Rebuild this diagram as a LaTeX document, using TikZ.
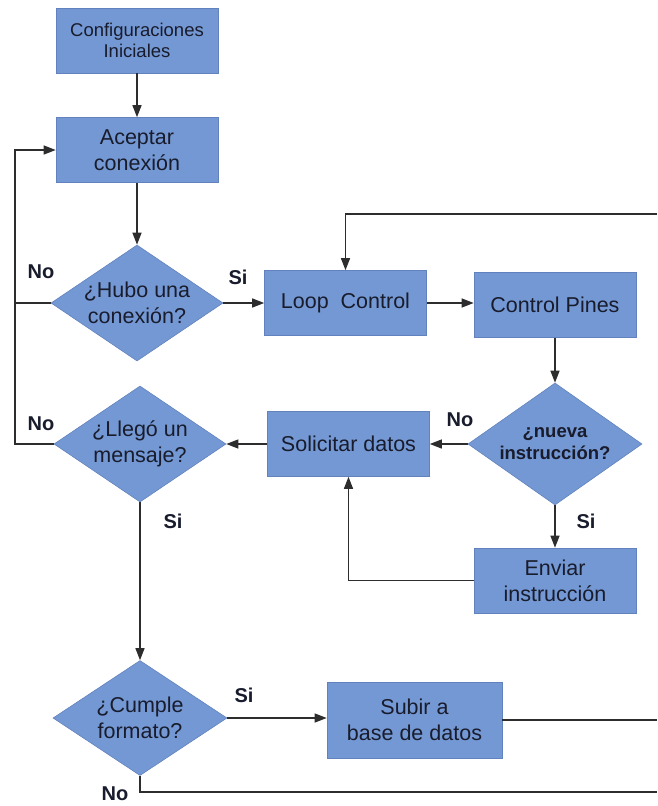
\documentclass[tikz,border=0pt]{standalone}
\usepackage{fontspec}
\setmainfont{Liberation Sans}
\usetikzlibrary{shapes.geometric,arrows.meta,calc}
\definecolor{boxblue}{RGB}{116,152,212}
\definecolor{boxedge}{RGB}{98,130,190}
\definecolor{ink}{RGB}{24,28,44}
\definecolor{wire}{RGB}{45,45,45}
\tikzset{
  procbox/.style={rectangle, fill=boxblue, draw=boxedge, line width=0.6pt,
    minimum width=162pt, minimum height=65pt, inner sep=2pt, align=center,
    text=ink, font=\fontsize{21.5}{26}\selectfont},
  decision/.style={diamond, fill=boxblue, draw=boxedge, line width=0.6pt,
    aspect=1.5, inner sep=0pt, minimum width=172pt, minimum height=116pt,
    align=center, text=ink, font=\fontsize{21.5}{26}\selectfont},
  flow/.style={draw=wire, line width=1.2pt,
    -{Triangle[length=12pt,width=9pt]}},
  wireline/.style={draw=wire, line width=1.2pt},
  answer/.style={font=\bfseries\fontsize{20}{24}\selectfont, text=ink, inner sep=0pt}
}
\begin{document}
\begin{tikzpicture}[x=1pt,y=-1pt]
\useasboundingbox (0,0) rectangle (657,806);

% steps and decisions
\node[procbox, font=\fontsize{18.5}{21}\selectfont] (cfg) at (137,40.5) {Configuraciones\\Iniciales};
\node[procbox] (acc) at (137,150) {Aceptar\\conexión};
\node[decision] (hubo) at (137,303) {¿Hubo una\\conexión?};
\node[procbox] (loop) at (345.5,303) {Loop~ Control};
\node[procbox] (pines) at (555,305) {Control Pines};
\node[decision, minimum width=174pt, minimum height=122pt,
      font=\bfseries\fontsize{18.5}{22}\selectfont] (nueva) at (555,444) {¿nueva\\instrucción?};
\node[procbox] (solic) at (348.5,444) {Solicitar datos};
\node[decision] (llego) at (140,444) {¿Llegó un\\mensaje?};
\node[procbox] (enviar) at (555,580.5) {Enviar\\instrucción};
\node[decision, minimum width=174pt, minimum height=115pt] (cumple) at (140,718) {¿Cumple\\formato?};
\node[procbox, minimum width=175pt, minimum height=76pt] (subir) at (414.5,720) {Subir a\\base de datos};

% free ends of the connectors
\coordinate (busL) at (15,150);
\coordinate (topR) at (657,214);
\coordinate (subR) at (657,720);
\coordinate (botR) at (657,792);

% connectors
\draw[flow] (cfg) -- (acc);
\draw[flow] (acc) -- (hubo);
\draw[flow] (llego.west) -| (busL) -- (acc.west);
\draw[wireline] (hubo.west) -- (hubo.west -| busL);
\draw[flow] (hubo) -- (loop);
\draw[flow] (loop) -- (loop.east -| pines.west);
\draw[flow] (pines) -- (nueva);
\draw[flow] (nueva) -- (solic);
\draw[flow] (nueva) -- (enviar);
\draw[flow] (enviar.west) -| (solic.south);
\draw[flow] (solic) -- (llego);
\draw[flow] (llego) -- (cumple);
\draw[flow] (cumple.east) -- (cumple.east -| subir.west);
\draw[wireline] (subir.east) -- (subR);
\draw[flow] (topR) -| (loop.north);
\draw[wireline] (cumple.south) |- (botR);

% branch labels
\node[answer] (n1) at (41,272) {No};
\node[answer] (s1) at (238,277) {Si};
\node[answer] (n2) at (41,424) {No};
\node[answer] (n3) at (460,420) {No};
\node[answer] (s2) at (586,521) {Si};
\node[answer] (s3) at (173,521) {Si};
\node[answer] (s4) at (244,695) {Si};
\node[answer] (n4) at (115,794) {No};
\end{tikzpicture}
\end{document}
